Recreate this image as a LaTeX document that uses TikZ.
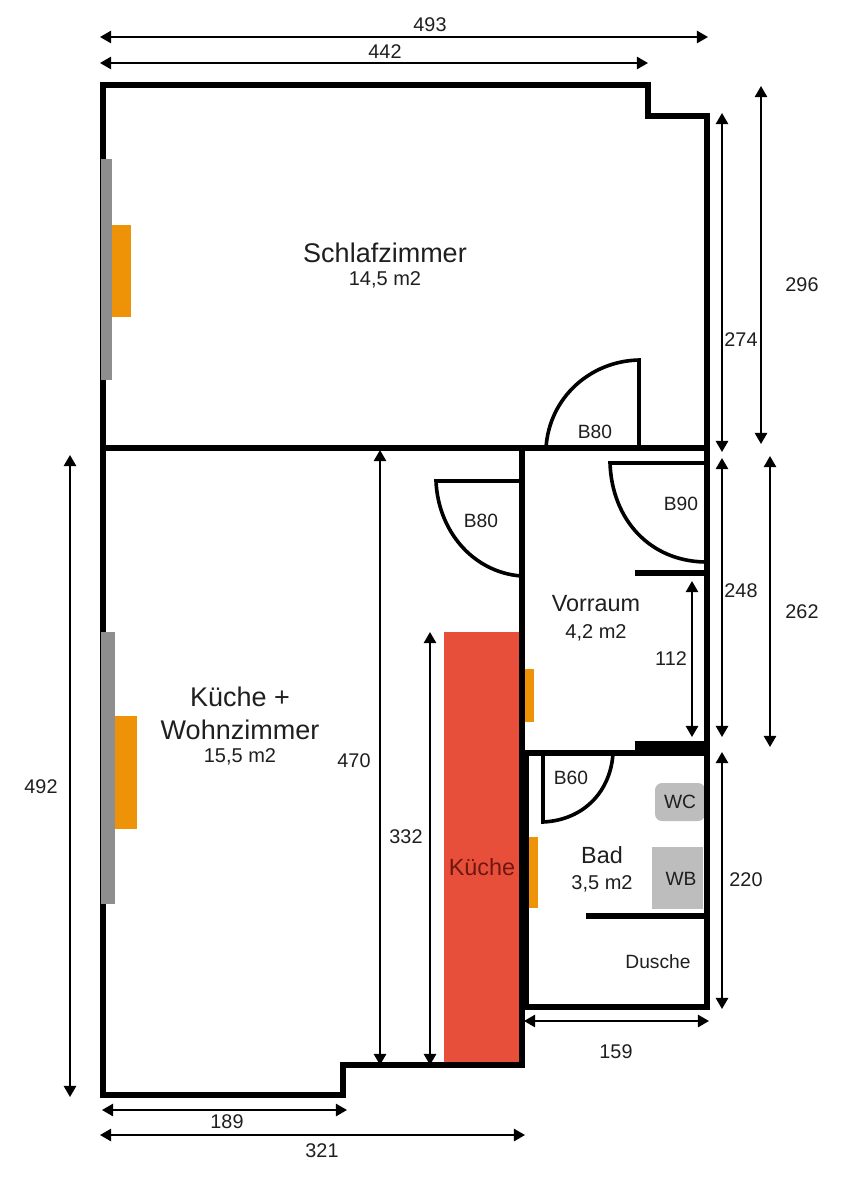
\documentclass[tikz,border=0pt]{standalone}
\usepackage{fontspec}
\setmainfont{Liberation Sans}
\usetikzlibrary{arrows.meta}
\definecolor{wallgray}{HTML}{8E8E8E}
\definecolor{heat}{HTML}{EE9208}
\definecolor{kitchen}{HTML}{E84F3A}
\definecolor{fixture}{HTML}{BDBDBD}
\definecolor{kitchentext}{HTML}{6E1710}
\tikzset{
  x=0.5pt,y=-0.5pt,
  wall/.style={line width=3pt,line join=miter,line cap=butt},
  thinwall/.style={line width=2.6pt,line cap=butt},
  door/.style={line width=1.8pt,line join=miter},
  dim/.style={line width=1pt,{Triangle[length=5.6pt,width=6.2pt]}-{Triangle[length=5.6pt,width=6.2pt]}},
  lab/.style={inner sep=0pt,text=black!88,font=\fontsize{9}{10}\selectfont},
  num/.style={lab,font=\fontsize{9.9}{11}\selectfont},
  small/.style={lab,font=\fontsize{9.6}{11}\selectfont},
  room/.style={lab,font=\fontsize{13.5}{15}\selectfont},
  area/.style={lab,font=\fontsize{10}{12}\selectfont},
  mid/.style={lab,font=\fontsize{11.7}{13}\selectfont},
}
\begin{document}
\begin{tikzpicture}
\useasboundingbox[fill=white] (0,0) rectangle (850,1200);
% fills
\fill[kitchen] (444,632) rectangle (519,1065);
\fill[heat] (112,225) rectangle (131,317);
\fill[heat] (115,716) rectangle (137,829);
\fill[heat] (525,669) rectangle (534,722);
\fill[heat] (529,837) rectangle (538,908);
\fill[fixture,rounded corners=3.5pt] (655,783) rectangle (705,821);
\fill[fixture] (652,847) rectangle (703,909);
% walls
\draw[wall] (103,448) -- (103,85) -- (648,85) -- (648,116) -- (707,116) -- (707,1007) -- (525,1007);
\draw[wall] (103,448) -- (707,448);
\draw[wall] (103,448) -- (103,1095) -- (343,1095) -- (343,1065) -- (522,1065) -- (522,448);
\draw[thinwall] (524,753) -- (707,753);
\draw[line width=2.6pt] (526,753) -- (526,1007);
\fill[black] (635,741) rectangle (707,756);
\draw[thinwall] (635,573) -- (707,573);
\draw[thinwall] (586,916) -- (707,916);
% window strips
\fill[wallgray] (101,159) rectangle (112,380);
\fill[wallgray] (101,632) rectangle (115,904);
% doors
\draw[door] (639,448) -- (639,360) .. controls (590,361) and (549,398) .. (546,448);
\draw[door] (707,463) -- (610,463) .. controls (612,520) and (650,561) .. (705,562);
\draw[door] (522,481) -- (436,481) .. controls (438,530) and (472,572) .. (521,576);
\draw[door] (543,753) -- (543,822) .. controls (585,820) and (611,790) .. (613,753);
% dimensions
\draw[dim] (100,37) -- (708,37);
\draw[dim] (100,63) -- (648,63);
\draw[dim] (722,113) -- (722,452);
\draw[dim] (722,458) -- (722,737);
\draw[dim] (722,752) -- (722,1009);
\draw[dim] (761,86) -- (761,444);
\draw[dim] (770,456) -- (770,747);
\draw[dim] (692,581) -- (692,737);
\draw[dim] (380,450) -- (380,1065);
\draw[dim] (430,632) -- (430,1065);
\draw[dim] (70,455) -- (70,1097);
\draw[dim] (102,1110) -- (347,1110);
\draw[dim] (100,1135) -- (525,1135);
\draw[dim] (524,1021) -- (709,1021);
% dimension labels
\node[num] (d493) at (430,25) {493};
\node[num] (d442) at (385,52) {442};
\node[num] (d274) at (741,340) {274};
\node[num] (d296) at (802,285) {296};
\node[num] (d248) at (741,591) {248};
\node[num] (d262) at (802,612) {262};
\node[num] (d220) at (746,880) {220};
\node[num] (d112) at (671,659) {112};
\node[num] (d470) at (354,761) {470};
\node[num] (d332) at (406,837) {332};
\node[num] (d492) at (41,787) {492};
\node[num] (d189) at (227,1122) {189};
\node[num] (d321) at (322,1151) {321};
\node[num] (d159) at (616,1052) {159};
% door labels
\node[small] (b80a) at (595,432) {B80};
\node[small] (b90) at (681,504) {B90};
\node[small] (b80b) at (481,521) {B80};
\node[small] (b60) at (571,778) {B60};
% room labels
\node[room] (schlaf) at (385,253) {Schlafzimmer};
\node[area] (schlafa) at (385,280) {14,5 m2};
\node[room] (kw1) at (240,697) {Küche +};
\node[room] (kw2) at (240,730) {Wohnzimmer};
\node[area] (kwa) at (240,757) {15,5 m2};
\node[mid] (vor) at (596,604) {Vorraum};
\node[area] (vora) at (596,633) {4,2 m2};
\node[mid] (bad) at (602,855) {Bad};
\node[area] (bada) at (602,884) {3,5 m2};
\node[mid,text=kitchentext] (kue) at (482,867) {Küche};
\node[small] (wc) at (680,802) {WC};
\node[small] (wb) at (681,879) {WB};
\node[small] (du) at (658,962) {Dusche};
\end{tikzpicture}
\end{document}
